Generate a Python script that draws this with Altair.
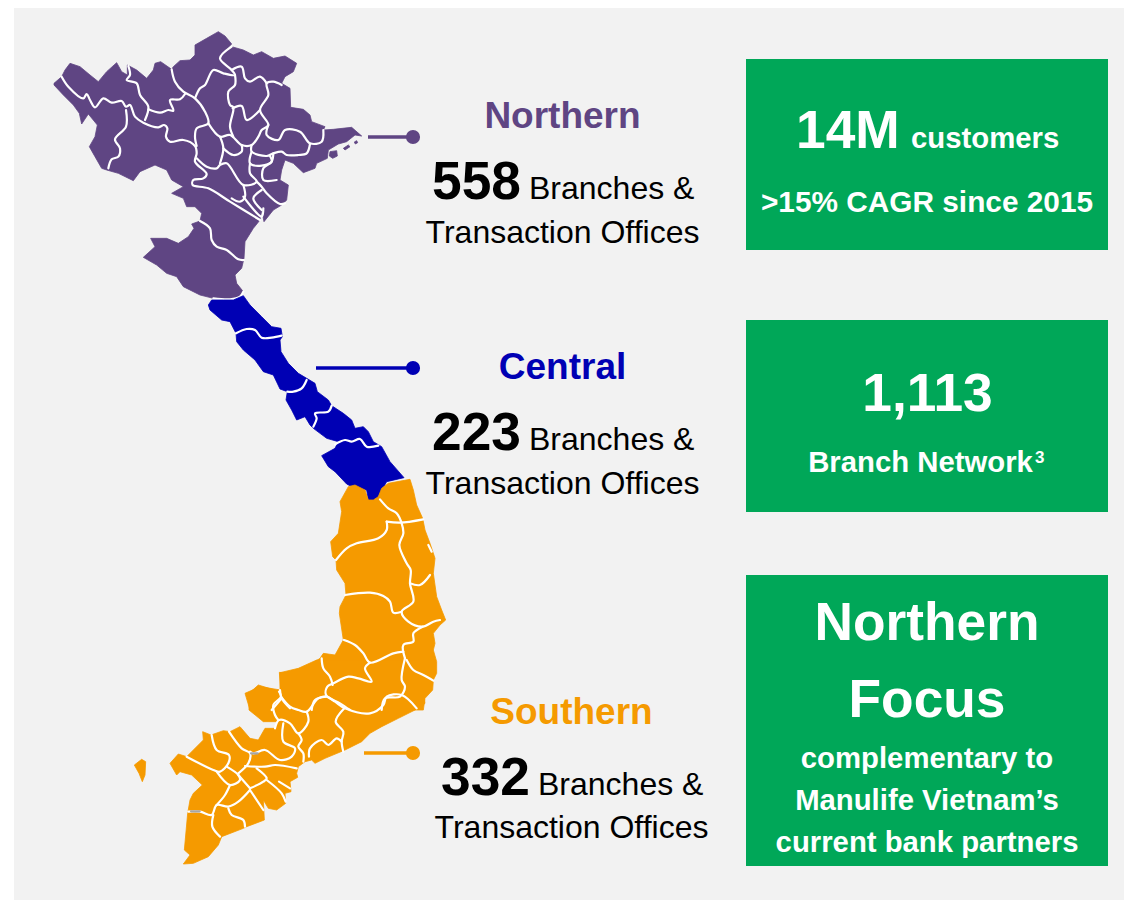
import altair as alt
import pandas as pd

# --- Map outlines (x, y as seen in crops of the picture)
NORTH_ORIGIN = (40, 20)
north_outline = [(42,190),(65,170),(75,150),(90,130),(120,140),(150,165),(175,185),(200,155),(230,128),(245,155),(262,165),(262,135),(290,150),(320,175),(340,150),(345,130),(362,125),(395,148),(400,140),(420,122),(450,120),(465,105),(465,75),(500,55),(535,35),(555,48),(575,72),(552,95),(575,80),(610,90),(640,105),(665,95),(700,115),(735,108),(770,130),(760,155),(735,170),(725,190),(750,205),(752,262),(790,268),(810,285),(815,305),(855,320),(850,330),(880,328),(935,322),(965,348),(945,345),(920,365),(895,372),(865,390),(862,415),(830,430),(825,445),(790,458),(760,430),(735,420),(725,450),(720,480),(745,495),(740,540),(725,555),(700,570),(672,605),(665,570),(660,600),(640,625),(615,665),(612,715),(605,745),(585,765),(590,790),(610,815),(600,830),(570,838),(520,835),(480,825),(430,800),(410,770),(380,760),(350,735),(310,712),(345,680),(332,655),(380,655),(415,670),(445,650),(462,625),(455,612),(480,603),(485,580),(465,560),(440,560),(430,535),(395,520),(430,500),(395,480),(380,450),(345,435),(300,455),(280,482),(235,460),(200,450),(185,445),(165,410),(148,380),(165,350),(172,315),(145,282),(125,312),(118,280),(100,255),(70,225),(42,195)]
north_island = [(870,395),(890,392),(892,408),(878,415),(868,408)]
north_islet_a = [(910,385),(925,375),(930,380),(915,390)]
north_islet_b = [(943,366),(950,362),(953,368),(946,372)]
north_borders = [
    [(65,170),(85,200),(130,235),(140,222),(150,240),(165,262),(190,235),(215,248),(245,243),(258,260),(270,255),(285,290),(310,308),(355,322),(372,315),(382,325),(378,350),(390,365),(430,360),(465,378),(470,400),(465,425),(500,462),(490,475),(460,480),(458,495),(505,505),(570,545),(660,600)],
    [(205,445),(215,418),(235,410),(240,385),(225,358),(258,320),(258,270)],
    [(265,138),(270,165),(260,180),(290,190),(300,225),(325,260),(315,300)],
    [(325,268),(360,278),(385,270),(400,272),(390,240),(420,238),(435,222)],
    [(395,148),(405,185),(430,215),(465,235),(495,275),(505,310),(470,325),(465,350),(470,378)],
    [(465,235),(480,205),(495,195),(520,150),(550,160),(585,165),(575,150),(540,115),(575,80)],
    [(585,165),(585,195),(565,215),(570,255),(580,262),(570,320),(580,350)],
    [(505,310),(540,350),(570,345),(605,375),(635,375),(655,350),(665,330),(685,315),(660,270),(685,225),(680,190),(700,185),(725,195)],
    [(575,150),(605,140),(615,175),(630,185),(660,170),(680,190)],
    [(660,270),(620,300),(605,258),(578,265)],
    [(685,315),(680,345),(715,360),(735,330),(780,335),(810,370),(845,365),(850,330)],
    [(635,375),(635,395),(680,408),(700,400),(725,395),(740,405),(775,405),(800,400),(810,372)],
    [(635,395),(630,430),(665,437),(695,425),(690,408)],
    [(700,400),(695,425),(670,445),(670,480),(710,480)],
    [(630,430),(630,460),(650,485),(610,495),(560,430),(540,435),(530,445),(500,440),(470,415)],
    [(540,430),(550,385),(540,350)],
    [(550,385),(580,405),(605,395),(605,375)],
    [(610,495),(615,530),(600,545),(575,535)],
    [(650,485),(665,500),(680,520),(720,552),(735,550)],
    [(665,510),(640,535),(665,570)],
    [(610,530),(665,590),(670,565)],
    [(480,603),(510,625),(515,660),(530,680),(560,690),(595,718),(612,720)],
    [(520,835),(570,838),(600,830),(610,815)],
]

CENTRAL_ORIGIN = (200, 285)
central_outline = [(35,45),(70,45),(100,45),(130,32),(150,60),(185,95),(215,125),(243,130),(247,155),(240,165),(243,200),(265,235),(295,265),(320,280),(345,295),(352,320),(385,345),(395,362),(430,385),(455,405),(465,430),(490,425),(505,440),(520,470),(545,485),(570,530),(612,578),(560,590),(540,625),(525,650),(505,645),(500,615),(465,610),(440,597),(405,560),(385,545),(365,512),(405,490),(415,470),(380,460),(340,430),(330,420),(315,395),(290,405),(275,375),(258,345),(262,320),(240,312),(220,270),(190,260),(165,225),(130,195),(110,170),(108,145),(90,110),(65,105),(30,75),(25,60)]
central_borders = [
    [(108,145),(140,132),(165,135),(185,158),(215,158),(245,152)],
    [(320,285),(305,310),(280,320),(262,320)],
    [(395,362),(385,380),(345,385),(350,400),(340,425)],
    [(405,478),(435,465),(455,470),(480,462),(500,485),(535,482)],
]

SOUTH_A_ORIGIN = (240, 470)
south_a_outline = [(325,50),(345,45),(375,60),(385,90),(400,90),(415,80),(425,55),(445,40),(510,28),(520,60),(530,105),(548,145),(555,180),(570,220),(585,265),(580,310),(590,380),(605,420),(617,450),(600,465),(580,490),(585,520),(580,540),(590,575),(590,610),(580,630),(578,660),(555,685),(550,720),(30,720),(15,670),(60,650),(122,660),(118,607),(150,610),(195,595),(240,565),(250,550),(285,555),(310,510),(298,430),(300,410),(318,375),(315,340),(290,300),(288,270),(278,260),(272,215),(295,190),(305,125),(300,95)]
south_a_borders = [
    [(420,88),(445,115),(470,130),(485,160),(490,190),(478,225),(500,280),(512,300),(510,340),(520,395),(485,425),(505,455),(548,470),(580,455),(600,450)],
    [(440,155),(480,158),(550,148)],
    [(440,155),(440,180),(415,205),(350,220),(320,235),(288,270)],
    [(510,340),(540,345),(570,315)],
    [(565,225),(575,245)],
    [(315,375),(390,368),(430,378),(450,395),(460,428),(485,425)],
    [(548,470),(520,490),(520,515),(490,525),(495,565)],
    [(312,510),(345,525),(370,550),(390,578),(460,550),(490,545)],
    [(390,578),(375,595),(395,635),(355,625),(325,620),(280,640),(262,650),(258,675),(300,700),(330,720)],
    [(245,565),(250,595),(270,620),(278,645)],
    [(495,565),(485,630),(495,650),(480,680),(435,685),(425,720)],
    [(500,570),(520,600),(550,615),(580,632)],
    [(120,660),(125,685),(150,715)],
    [(125,685),(95,720)],
    [(258,680),(225,690),(215,720)],
]

SOUTH_B_ORIGIN = (125, 660)
south_b_outline = [(465,38),(520,25),(575,0),(880,0),(900,130),(870,150),(820,175),(770,200),(735,220),(710,245),(660,270),(600,295),(570,310),(560,300),(540,305),(520,320),(515,340),(518,352),(495,365),(498,395),(480,400),(482,430),(455,450),(430,445),(415,420),(418,480),(365,500),(355,505),(290,530),(280,555),(250,590),(205,610),(175,612),(195,585),(178,570),(188,460),(195,420),(205,400),(232,375),(200,345),(165,335),(155,345),(135,310),(160,282),(185,290),(235,240),(233,215),(258,225),(295,212),(315,215),(345,200),(375,235),(400,240),(420,205),(450,205),(460,185),(415,185),(372,150),(372,100),(400,75),(465,95)]
south_b_island = [(28,315),(50,298),(62,305),(60,345),(52,365),(42,340)]
south_b_borders = [
    [(462,95),(468,110),(445,135),(450,165),(460,180)],
    [(468,110),(495,140),(520,150),(545,155),(580,115),(605,110),(630,125),(660,145),(735,160),(775,135),(785,110),(830,105),(875,145)],
    [(545,155),(550,185),(520,220),(495,190),(462,180),(450,205)],
    [(520,220),(530,240),(520,260),(535,280),(535,305)],
    [(475,190),(475,245),(510,265),(500,290),(465,300),(420,270),(385,280),(375,275)],
    [(658,145),(632,185),(655,215),(650,245),(655,275)],
    [(552,290),(555,265),(590,240),(610,255),(635,235),(650,245)],
    [(260,225),(275,270),(312,285),(310,310),(285,335),(265,330),(185,290)],
    [(312,215),(350,265),(375,280),(370,310),(340,340)],
    [(360,318),(420,320),(450,315),(515,325)],
    [(305,320),(340,345),(345,360),(315,375),(275,335)],
    [(315,375),(300,405),(275,435)],
    [(340,345),(375,385)],
    [(375,385),(415,365),(425,355),(395,325)],
    [(375,390),(340,425),(310,440),(275,435),(260,465),(225,455),(190,455)],
    [(425,360),(470,400),(482,425)],
    [(375,390),(415,450)],
    [(265,465),(262,500),(285,530)],
    [(310,445),(320,465),(355,480),(360,500)],
    [(462,365),(495,385)],
]
south_b_gray = [
    [(378,280),(398,280)],
    [(198,454),(224,454)],
]

PURPLE = "#5F4583"
BLUE = "#0000B4"
ORANGE = "#F59A00"
GREEN = "#00A758"
PANEL = "#F2F2F2"

W, H = 1116, 892
X = alt.Scale(domain=[8, 8 + W], nice=False, zero=False)
Y = alt.Scale(domain=[8 + H, 8], nice=False, zero=False)


def rows(paths, origin):
    out = []
    for pid, path in enumerate(paths):
        for i, (a, b) in enumerate(path):
            out.append({"x": origin[0] + a / 3, "y": origin[1] + b / 3, "id": pid, "i": i})
    return pd.DataFrame(out)


def shapes(paths, origin, color):
    closed = [p + [p[0]] for p in paths]
    return alt.Chart(rows(closed, origin)).mark_line(fill=color, stroke=color, strokeWidth=0.8).encode(
        x=alt.X("x:Q", scale=X, axis=None), y=alt.Y("y:Q", scale=Y, axis=None),
        detail="id:N", order="i:Q")


def borders(paths, origin, color="#FFFFFF"):
    return alt.Chart(rows(paths, origin)).mark_line(stroke=color, strokeWidth=2.2, strokeJoin="round",
                                                    strokeCap="round", interpolate="catmull-rom").encode(
        x=alt.X("x:Q", scale=X, axis=None), y=alt.Y("y:Q", scale=Y, axis=None),
        detail="id:N", order="i:Q")


def box(x0, x1, y0, y1, color):
    d = pd.DataFrame({"x": [x0], "x2": [x1], "y": [y0], "y2": [y1]})
    return alt.Chart(d).mark_rect(color=color).encode(
        x=alt.X("x:Q", scale=X, axis=None), x2="x2:Q",
        y=alt.Y("y:Q", scale=Y, axis=None), y2="y2:Q")


def connector(x0, x1, y, color):
    d = pd.DataFrame({"x": [x0, x1], "y": [y, y], "i": [0, 1]})
    line = alt.Chart(d).mark_line(stroke=color, strokeWidth=3.5).encode(
        x=alt.X("x:Q", scale=X, axis=None), y=alt.Y("y:Q", scale=Y, axis=None), order="i:Q")
    dot = alt.Chart(d.iloc[[1]]).mark_point(filled=True, color=color, size=200, opacity=1).encode(
        x=alt.X("x:Q", scale=X, axis=None), y=alt.Y("y:Q", scale=Y, axis=None))
    return line + dot


def label(text, x, y, size, color="#000000", weight="normal", align="center"):
    d = pd.DataFrame({"x": [x], "y": [y], "t": [text]})
    return alt.Chart(d).mark_text(font="Liberation Sans", fontSize=size, fontWeight=weight, color=color,
                                  align=align, baseline="alphabetic").encode(
        x=alt.X("x:Q", scale=X, axis=None), y=alt.Y("y:Q", scale=Y, axis=None), text="t:N")


WHITE = "#FFFFFF"
layers = [
    box(14, 1124, 8, 900, PANEL),
    box(746, 1108, 59, 250, GREEN),
    box(746, 1108, 320, 512, GREEN),
    box(746, 1108, 575, 866, GREEN),
    shapes([north_outline, north_island, north_islet_a, north_islet_b], NORTH_ORIGIN, PURPLE),
    borders(north_borders, NORTH_ORIGIN),
    shapes([central_outline], CENTRAL_ORIGIN, BLUE),
    borders(central_borders, CENTRAL_ORIGIN),
    shapes([south_a_outline], SOUTH_A_ORIGIN, ORANGE),
    shapes([south_b_outline, south_b_island], SOUTH_B_ORIGIN, ORANGE),
    borders(south_a_borders, SOUTH_A_ORIGIN),
    borders(south_b_borders, SOUTH_B_ORIGIN),
    borders(south_b_gray, SOUTH_B_ORIGIN, "#A6A6A6"),
    connector(368, 413, 137, PURPLE),
    connector(316, 413, 368, BLUE),
    connector(364, 413, 753, ORANGE),
    label("Northern", 562.5, 127.5, 37, PURPLE, "bold"),
    label("558", 432, 199, 53.3, weight="bold", align="left"),
    label("Branches &", 529, 199, 32, align="left"),
    label("Transaction Offices", 562.5, 243, 32),
    label("Central", 562.5, 378.5, 37, BLUE, "bold"),
    label("223", 432, 450, 53.3, weight="bold", align="left"),
    label("Branches &", 529, 450, 32, align="left"),
    label("Transaction Offices", 562.5, 494, 32),
    label("Southern", 571.5, 723.5, 37, ORANGE, "bold"),
    label("332", 441, 795, 53.3, weight="bold", align="left"),
    label("Branches &", 538, 795, 32, align="left"),
    label("Transaction Offices", 571.5, 838, 32),
    label("14M", 796, 147.7, 53.3, WHITE, "bold", "left"),
    label("customers", 911, 147.7, 29.3, WHITE, "bold", "left"),
    label(">15% CAGR since 2015", 927, 212, 29.8, WHITE, "bold"),
    label("1,113", 927.5, 410.5, 53.3, WHITE, "bold"),
    label("Branch Network", 920.5, 472, 29.3, WHITE, "bold"),
    label("3", 1035, 463, 17, WHITE, "bold", "left"),
    label("Northern", 927, 640, 53.3, WHITE, "bold"),
    label("Focus", 927, 717, 53.3, WHITE, "bold"),
    label("complementary to", 927, 768, 29.3, WHITE, "bold"),
    label("Manulife Vietnam’s", 927, 810, 29.3, WHITE, "bold"),
    label("current bank partners", 927, 852, 29.3, WHITE, "bold"),
]

chart = alt.layer(*layers).properties(
    width=W, height=H, padding=0, background="#FFFFFF",
    autosize=alt.AutoSizeParams(type="none"),
).configure_view(stroke=None)

chart.save("out.html", embed_options={"renderer": "svg", "actions": False})
